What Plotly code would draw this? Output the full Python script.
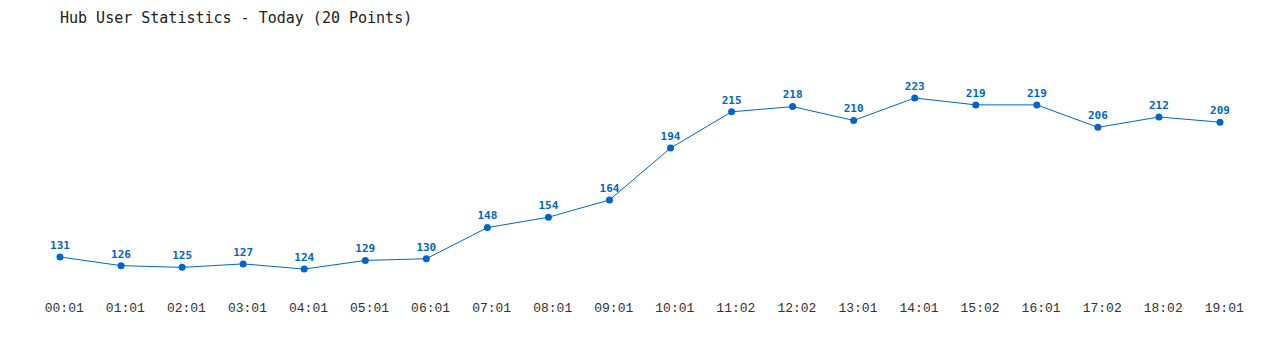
import plotly.graph_objects as go

times = ["00:01", "01:01", "02:01", "03:01", "04:01", "05:01", "06:01", "07:01", "08:01", "09:01",
         "10:01", "11:02", "12:02", "13:01", "14:01", "15:02", "16:01", "17:02", "18:02", "19:01"]
users = [131, 126, 125, 127, 124, 129, 130, 148, 154, 164,
         194, 215, 218, 210, 223, 219, 219, 206, 212, 209]
title_text = "Hub User Statistics - Today (20 Points)"

idx = list(range(len(times)))
blue = "#0066cc"
mono = "DejaVu Sans Mono, Liberation Mono, monospace"
mono_thin = "Liberation Mono, DejaVu Sans Mono, monospace"

fig = go.Figure(go.Scatter(
    x=idx, y=users, mode="lines+markers+text",
    text=[str(v) for v in users], textposition="top center",
    textfont=dict(family=mono, size=11, color=blue, weight="bold"),
    line=dict(color=blue, width=1),
    marker=dict(color=blue, size=7),
    cliponaxis=False, hoverinfo="skip",
))

fig.update_layout(
    width=1280, height=350,
    margin=dict(l=30, r=30, t=80, b=60),
    paper_bgcolor="white", plot_bgcolor="white",
    showlegend=False,
    title=dict(text=title_text, x=60 / 1280, xanchor="left", xref="container",
               y=1 - 18 / 350, yanchor="middle", yref="container",
               font=dict(family=mono, size=15, color="#222222")),
    xaxis=dict(range=[-0.4914, 19.4914], tickvals=[i + 0.07 for i in idx], ticktext=times,
               showgrid=False, zeroline=False, showline=False, ticks="",
               ticklabelstandoff=8,
               tickfont=dict(family=mono_thin, size=13, color="#333333")),
    yaxis=dict(range=[111.9, 233.4], showgrid=False, zeroline=False,
               showline=False, showticklabels=False, ticks=""),
)

fig.write_html("out.html")
